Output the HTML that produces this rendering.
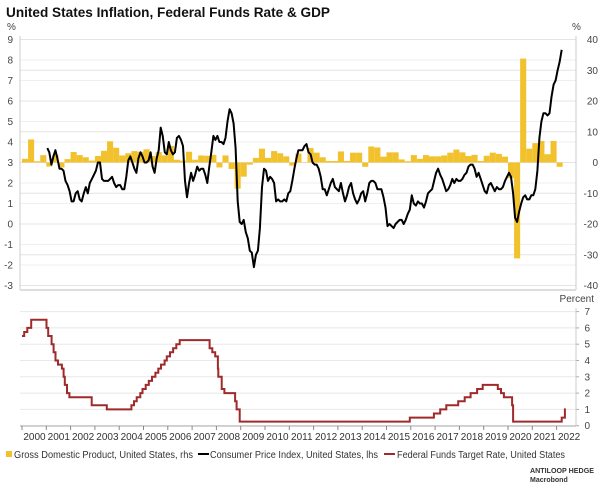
<!DOCTYPE html>
<html><head><meta charset="utf-8"><style>
body{margin:0;background:#fff;width:602px;height:489px;overflow:hidden;font-family:"Liberation Sans",Arial,sans-serif}
svg text{font-family:"Liberation Sans",Arial,sans-serif}
</style></head><body>
<svg id="c" width="602" height="489"></svg>
<script>
const cpiStart = 2001;
const cpiValues = [
3.7,3.5,2.9,3.3,3.6,3.2,2.7,2.7,2.6,2.1,1.9,1.6,
1.1,1.1,1.5,1.6,1.2,1.1,1.5,1.8,1.5,2.0,2.2,2.4,
2.6,3.0,3.0,2.2,2.1,2.1,2.1,2.2,2.3,2.0,1.8,1.9,
1.9,1.7,1.7,2.3,3.1,3.3,3.0,2.7,2.5,3.2,3.5,3.3,
3.0,3.0,3.1,3.5,2.8,2.5,3.2,3.6,4.7,4.3,3.5,3.4,
4.0,3.6,3.4,3.5,4.2,4.3,4.1,3.8,2.1,1.3,2.0,2.5,
2.1,2.4,2.8,2.6,2.7,2.7,2.4,2.0,2.8,3.5,4.3,4.1,
4.3,4.0,4.0,3.9,4.2,5.0,5.6,5.4,4.9,3.7,1.1,0.1,
0.0,0.2,-0.4,-0.7,-1.3,-1.4,-2.1,-1.5,-1.3,-0.2,1.8,2.7,
2.6,2.1,2.3,2.2,2.0,1.1,1.2,1.1,1.1,1.2,1.1,1.5,
1.6,2.1,2.7,3.2,3.6,3.6,3.6,3.8,3.9,3.5,3.4,3.0,
2.9,2.9,2.7,2.3,1.7,1.7,1.4,1.7,2.0,2.2,1.8,1.7,
1.6,2.0,1.5,1.1,1.4,1.8,2.0,1.5,1.2,1.0,1.2,1.5,
1.6,1.1,1.5,2.0,2.1,2.1,2.0,1.7,1.7,1.7,1.3,0.8,
-0.1,0.0,-0.1,-0.2,0.0,0.1,0.2,0.2,0.0,0.2,0.5,0.7,
1.4,1.0,0.9,1.1,1.0,1.0,0.8,1.1,1.5,1.6,1.7,2.1,
2.5,2.7,2.4,2.2,1.9,1.6,1.7,1.9,2.2,2.0,2.2,2.1,
2.1,2.2,2.4,2.5,2.8,2.9,2.9,2.7,2.3,2.5,2.2,1.9,
1.6,1.5,1.9,2.0,1.8,1.6,1.8,1.7,1.7,1.8,2.1,2.3,
2.5,2.3,1.5,0.3,0.1,0.6,1.0,1.3,1.4,1.2,1.2,1.4,
1.4,1.7,2.6,4.2,5.0,5.4,5.4,5.3,5.4,6.2,6.8,7.0,
7.5,7.9,8.5];
const gdpStart = 2000;
const gdpValues = [1.2,7.5,0.4,2.4,-1.3,2.5,-1.6,1.1,3.4,2.4,1.7,0.6,2.1,3.8,6.9,4.8,
2.3,3.0,3.7,3.5,4.3,2.1,3.4,2.3,5.4,0.9,0.6,3.5,0.9,2.3,2.2,2.5,
-1.6,2.3,-2.1,-8.5,-4.6,-0.7,1.5,4.5,1.5,3.7,3.0,2.0,-1.0,2.9,-0.1,4.7,
3.2,1.7,0.5,0.5,3.6,0.5,3.2,3.2,-1.4,5.2,4.9,1.9,3.3,3.3,1.0,0.4,
2.4,1.2,2.4,2.0,2.0,2.3,3.2,4.2,3.3,2.1,2.5,0.5,2.2,3.2,2.8,1.9,
-5.1,-31.2,33.8,4.5,6.3,7.0,2.7,7.0,-1.4];
const fedDates = [2000.0,2000.09,2000.22,2000.38,2001.01,2001.08,2001.22,2001.3,2001.38,2001.48,2001.64,2001.71,2001.76,2001.85,2001.95,2002.87,2003.49,2004.5,2004.61,2004.72,2004.87,2004.96,2005.09,2005.22,2005.35,2005.49,2005.61,2005.72,2005.87,2005.96,2006.09,2006.22,2006.35,2006.49,2007.72,2007.83,2007.95,2008.06,2008.08,2008.22,2008.33,2008.77,2008.83,2008.96,2015.96,2016.95,2017.21,2017.46,2017.95,2018.22,2018.46,2018.73,2018.96,2019.58,2019.71,2019.83,2020.17,2020.21,2022.21,2022.34];
const fedValues = [5.5,5.75,6.0,6.5,6.0,5.5,5.0,4.5,4.0,3.75,3.5,3.0,2.5,2.0,1.75,1.25,1.0,1.25,1.5,1.75,2.0,2.25,2.5,2.75,3.0,3.25,3.5,3.75,4.0,4.25,4.5,4.75,5.0,5.25,4.75,4.5,4.25,3.5,3.0,2.25,2.0,1.5,1.0,0.25,0.5,0.75,1.0,1.25,1.5,1.75,2.0,2.25,2.5,2.25,2.0,1.75,1.25,0.25,0.5,1.0];
const fedEnd = 2022.38;
const leftTicks = [9,8,7,6,5,4,3,2,1,0,-1,-2,-3];
const rightTicks = [40,30,20,10,0,-10,-20,-30,-40];
const fedTicks = [0,1,2,3,4,5,6,7];
const years = [2000,2001,2002,2003,2004,2005,2006,2007,2008,2009,2010,2011,2012,2013,2014,2015,2016,2017,2018,2019,2020,2021,2022];

const X = t => 22 + 24.3*(t-2000);
const YL = v => 224 - 20.5*v;
const YR = v => 162.5 - 3.075*v;
const YF = v => 425.7 - 16.3*v;
const svg = document.getElementById('c');
const NS='http://www.w3.org/2000/svg';
function mk(tag, attrs, txt){const e=document.createElementNS(NS,tag);for(const k in attrs)e.setAttribute(k,attrs[k]);if(txt!==undefined)e.textContent=txt;svg.appendChild(e);return e;}

let e = mk('text',{x:6,y:17,'font-size':13.5,'font-weight':'bold',fill:'#111',textLength:324,lengthAdjust:'spacingAndGlyphs'},'United States Inflation, Federal Funds Rate & GDP');


mk('text',{x:7,y:30,'font-size':10,fill:'#444'},'%');
mk('text',{x:572,y:30,'font-size':10,fill:'#444'},'%');
leftTicks.forEach(v=>{
  mk('line',{x1:20,x2:576,y1:YL(v),y2:YL(v),stroke:'#efefef','stroke-width':1});
  e=mk('text',{x:13,y:YL(v)+3.5,'font-size':10,fill:'#444','text-anchor':'end'},v);
  
  
});
rightTicks.forEach(v=>{
  mk('line',{x1:20,x2:576,y1:YR(v),y2:YR(v),stroke:'#e4e4e4','stroke-width':1});
  e=mk('text',{x:598,y:YR(v)+3.5,'font-size':10,fill:'#444','text-anchor':'end'},v);
  
  
});
mk('line',{x1:20,x2:20,y1:36,y2:290,stroke:'#ccc'});
mk('line',{x1:576,x2:576,y1:36,y2:290,stroke:'#ccc'});
mk('line',{x1:20,x2:576,y1:290,y2:290,stroke:'#ddd','stroke-width':2});
gdpValues.forEach((v,i)=>{
  const t=gdpStart+i/4;
  const y0=YR(0), y1=YR(v);
  const b=mk('rect',{x:X(t),y:Math.min(y0,y1),width:24.3/4,height:Math.abs(y1-y0),fill:'#f2c12e'});
  
  
});
let d='';
cpiValues.forEach((v,i)=>{const t=cpiStart+(i+0.5)/12;d+=(i?'L':'M')+X(t).toFixed(1)+' '+YL(v).toFixed(1);});
e=mk('path',{d:d,fill:'none',stroke:'#000','stroke-width':2,'stroke-linejoin':'round'});


fedTicks.forEach(v=>{
  mk('line',{x1:20,x2:576,y1:YF(v),y2:YF(v),stroke:'#e8e8e8'});
  mk('line',{x1:576,x2:579,y1:YF(v),y2:YF(v),stroke:'#aaa'});
  e=mk('text',{x:590,y:YF(v)+3.5,'font-size':10,fill:'#444','text-anchor':'end'},v);
  
  
});
mk('text',{x:594,y:302,'font-size':10,fill:'#444','text-anchor':'end'},'Percent');
mk('line',{x1:576,x2:576,y1:308,y2:426,stroke:'#ccc'});
mk('line',{x1:20,x2:576,y1:426,y2:426,stroke:'#aaa'});
years.forEach(y=>{
  mk('line',{x1:X(y),x2:X(y),y1:426,y2:430,stroke:'#888'});
  e=mk('text',{x:X(y)+12.5,y:440,'font-size':10,fill:'#333','text-anchor':'middle'},y);
  
  
});
d='M'+X(fedDates[0])+' '+YF(fedValues[0]);
for(let i=1;i<fedDates.length;i++){d+='H'+X(fedDates[i]).toFixed(1)+'V'+YF(fedValues[i]).toFixed(1);}
d+='H'+X(fedEnd).toFixed(1);
e=mk('path',{d:d,fill:'none',stroke:'#9e2a2b','stroke-width':2});


mk('rect',{x:6,y:451,width:6,height:6,fill:'#f2c12e'});
e=mk('text',{x:14,y:458,'font-size':10,fill:'#333',textLength:179,lengthAdjust:'spacingAndGlyphs'},'Gross Domestic Product, United States, rhs');


mk('line',{x1:198,x2:209,y1:454,y2:454,stroke:'#000','stroke-width':2});
e=mk('text',{x:210,y:458,'font-size':10,fill:'#333',textLength:168,lengthAdjust:'spacingAndGlyphs'},'Consumer Price Index, United States, lhs');


mk('line',{x1:384,x2:395,y1:454,y2:454,stroke:'#9e2a2b','stroke-width':2});
e=mk('text',{x:397,y:458,'font-size':10,fill:'#333',textLength:168,lengthAdjust:'spacingAndGlyphs'},'Federal Funds Target Rate, United States');


e=mk('text',{x:530,y:473,'font-size':7.5,'font-weight':'bold',fill:'#333',textLength:64,lengthAdjust:'spacingAndGlyphs'},'ANTILOOP HEDGE');


e=mk('text',{x:530,y:482,'font-size':7,'font-weight':'bold',fill:'#333'},'Macrobond');


</script>
</body></html>
